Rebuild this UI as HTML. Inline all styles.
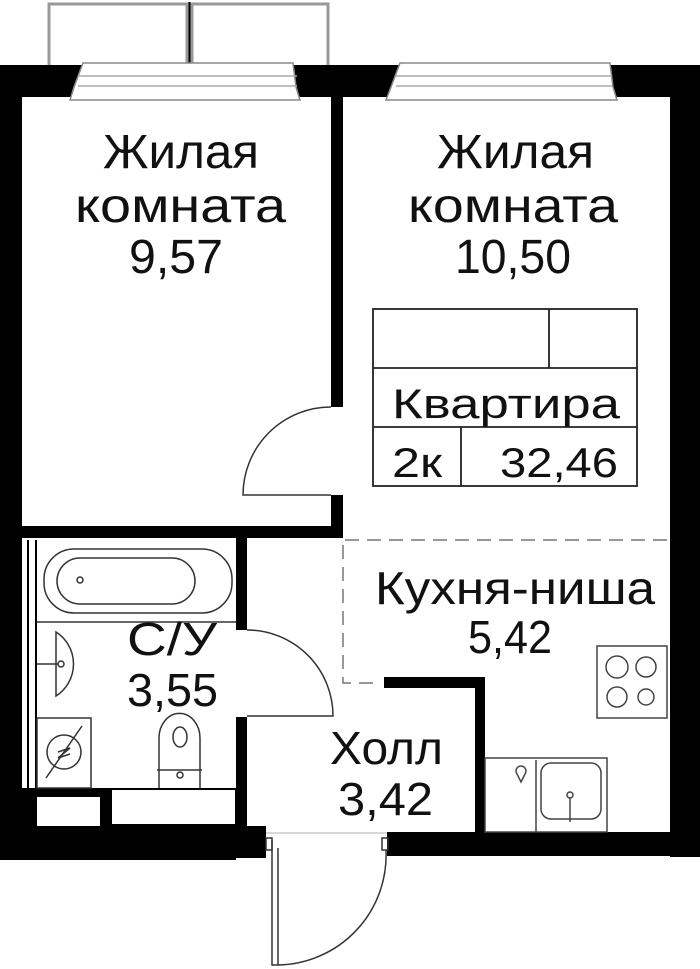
<!DOCTYPE html>
<html><head><meta charset="utf-8"><style>
html,body{margin:0;padding:0;background:#fff;}
svg{display:block;}
text{font-family:"Liberation Sans","DejaVu Sans",sans-serif;fill:#111;}
</style></head><body>
<svg width="700" height="969" viewBox="0 0 700 969" xmlns="http://www.w3.org/2000/svg">
<g fill="none" stroke="#999" stroke-width="3">
<path d="M49 65 V4 H187 V65"/><path d="M192 65 V4 H328 V65"/>
</g>
<line x1="189.5" y1="2" x2="189.5" y2="65" stroke="#000" stroke-width="2"/>
<g fill="#000">
<rect x="0" y="65" width="700" height="32"/>
<rect x="0" y="65" width="22" height="795"/>
<rect x="670" y="65" width="30" height="792"/>
<rect x="331" y="65" width="12" height="342"/>
<rect x="331" y="495" width="12" height="43"/>
<rect x="0" y="526" width="343" height="12"/>
<rect x="236" y="538" width="11" height="92"/>
<rect x="236" y="717" width="11" height="115"/>
<rect x="0" y="788" width="236" height="72"/>
<rect x="236" y="826" width="30" height="32"/>
<rect x="387" y="832" width="313" height="24"/>
<rect x="384" y="677" width="101" height="11"/>
<rect x="475" y="677" width="10" height="157"/>
</g>
<rect x="37" y="797" width="63" height="29" fill="#fff"/>
<rect x="112" y="790" width="123" height="34" fill="#fff"/>
<line x1="28" y1="540" x2="28" y2="788" stroke="#000" stroke-width="2"/>
<line x1="36" y1="540" x2="36" y2="788" stroke="#000" stroke-width="2"/>
<g fill="#fff" stroke="#888" stroke-width="1.5">
<path d="M83 63 H293 L296 87 L300 100 H70 L74 87 Z"/>
<path d="M400 63 H610 L613 87 L617 100 H386 L391 87 Z"/>
</g>
<g stroke="#aaa" stroke-width="1.5"><line x1="78" y1="76" x2="297" y2="76"/><line x1="78" y1="86" x2="297" y2="86"/><line x1="396" y1="76" x2="612" y2="76"/><line x1="396" y1="86" x2="612" y2="86"/></g>
<g fill="none" stroke="#333" stroke-width="1.5">
<path d="M331 407 A88 88 0 0 0 243 495 H331"/>
<path d="M247 630 A86 86 0 0 1 333 716 H247"/>
<path d="M272 840 V965 H278 V848"/>
<path d="M278 965 A110 110 0 0 0 386 850"/>
<rect x="266" y="838" width="6" height="12"/>
<rect x="382" y="838" width="6" height="12"/>
</g>
<line x1="266" y1="833" x2="387" y2="833" stroke="#ccc" stroke-width="1.5"/>
<g fill="none" stroke="#777" stroke-width="1.5" stroke-dasharray="14 8">
<line x1="345" y1="540" x2="668" y2="540"/>
<path d="M343 545 V683 H380"/>
</g>
<g fill="none" stroke="#333" stroke-width="1.5">
<rect x="44" y="549" width="188" height="64" rx="30"/>
<rect x="57" y="558" width="138" height="46" rx="23"/>
<circle cx="80" cy="580" r="3"/>
<line x1="37" y1="622" x2="236" y2="622"/>
<path d="M56 632 A38 38 0 0 1 56 696 Z"/>
<line x1="37" y1="664" x2="58" y2="664"/><circle cx="61" cy="664" r="3"/>
<rect x="37" y="718" width="54" height="70"/>
<circle cx="64" cy="752" r="17"/><line x1="46" y1="778" x2="82" y2="726"/>
<path d="M58 752 L70 748 L58 758 L70 754"/>
<path d="M159 788 V738 A20 24 0 0 1 200 738 V788"/>
<ellipse cx="180" cy="737" rx="7" ry="10"/>
<line x1="157" y1="770" x2="202" y2="770"/><circle cx="180" cy="775" r="3"/>
</g>
<g fill="none" stroke="#444" stroke-width="1.5">
<rect x="597" y="646" width="70" height="72"/>
<circle cx="617" cy="667" r="11"/><circle cx="646" cy="667" r="10"/>
<circle cx="617" cy="697" r="10"/><circle cx="646" cy="697" r="8"/>
<rect x="485" y="758" width="122" height="74"/>
<line x1="536" y1="760" x2="536" y2="832"/>
<rect x="541" y="763" width="60" height="56" rx="10"/>
<circle cx="570" cy="795" r="3"/><line x1="570" y1="798" x2="570" y2="822"/>
<path d="M517 774 A5 5 0 1 1 525 774 L521 782 Z"/>
</g>
<g fill="none" stroke="#222" stroke-width="1.8">
<rect x="373" y="309" width="264" height="177"/>
<line x1="373" y1="368" x2="637" y2="368"/><line x1="373" y1="427" x2="637" y2="427"/>
<line x1="549" y1="309" x2="549" y2="368"/><line x1="461" y1="427" x2="461" y2="486"/>
</g>
<g lengthAdjust="spacingAndGlyphs">
<text x="392" y="418" font-size="42" textLength="228" lengthAdjust="spacingAndGlyphs">Квартира</text>
<text x="392" y="477" font-size="42" textLength="50" lengthAdjust="spacingAndGlyphs">2к</text>
<text x="500" y="477" font-size="42" textLength="118" lengthAdjust="spacingAndGlyphs">32,46</text>
</g>
<g font-size="48">
<text x="103" y="168" textLength="156" lengthAdjust="spacingAndGlyphs">Жилая</text>
<text x="75" y="222" textLength="211" lengthAdjust="spacingAndGlyphs">комната</text>
<text x="129" y="273" textLength="94" lengthAdjust="spacingAndGlyphs">9,57</text>
<text x="437" y="168" textLength="157" lengthAdjust="spacingAndGlyphs">Жилая</text>
<text x="408" y="222" textLength="210" lengthAdjust="spacingAndGlyphs">комната</text>
<text x="455" y="273" textLength="116" lengthAdjust="spacingAndGlyphs">10,50</text>
</g>
<g font-size="46">
<text x="375" y="604" textLength="280" lengthAdjust="spacingAndGlyphs">Кухня-ниша</text>
<text x="468" y="653" textLength="84" lengthAdjust="spacingAndGlyphs">5,42</text>
<text x="127" y="655" textLength="90" lengthAdjust="spacingAndGlyphs">С/У</text>
<text x="127" y="706" textLength="91" lengthAdjust="spacingAndGlyphs">3,55</text>
<text x="330" y="764" textLength="113" lengthAdjust="spacingAndGlyphs">Холл</text>
<text x="338" y="815" textLength="95" lengthAdjust="spacingAndGlyphs">3,42</text>
</g>
</svg>
</body></html>
